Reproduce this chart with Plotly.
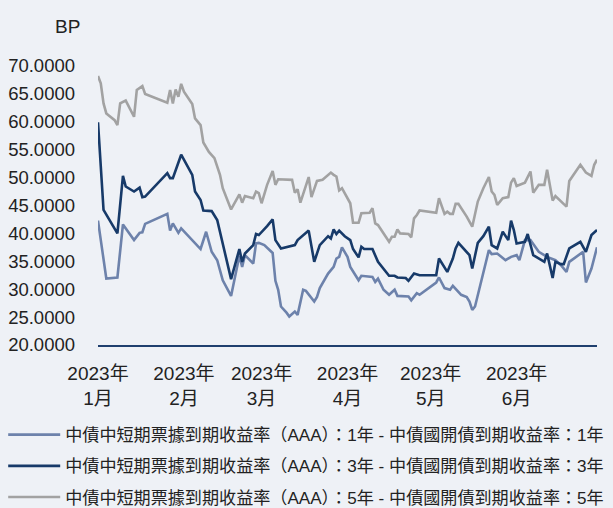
import plotly.graph_objects as go

# ---------------- data ----------------
dates_1y = ["2023-01-01","2023-01-04","2023-01-08","2023-01-10","2023-01-14","2023-01-16","2023-01-17","2023-01-18",
            "2023-01-26","2023-01-27","2023-01-28","2023-01-30","2023-01-31","2023-02-07","2023-02-09","2023-02-11",
            "2023-02-13","2023-02-15","2023-02-18","2023-02-21","2023-02-22","2023-02-23","2023-02-26","2023-02-27",
            "2023-02-28","2023-03-02","2023-03-05","2023-03-06","2023-03-07","2023-03-08","2023-03-10","2023-03-11",
            "2023-03-13","2023-03-14","2023-03-16","2023-03-17","2023-03-20","2023-03-21","2023-03-22","2023-03-25",
            "2023-03-27","2023-03-28","2023-03-29","2023-03-30","2023-04-01","2023-04-02","2023-04-05","2023-04-06",
            "2023-04-10","2023-04-11","2023-04-12","2023-04-14","2023-04-16","2023-04-18","2023-04-19","2023-04-23",
            "2023-04-24","2023-04-26","2023-04-27","2023-05-03","2023-05-04","2023-05-06","2023-05-08","2023-05-09",
            "2023-05-12","2023-05-14","2023-05-15","2023-05-16","2023-05-17","2023-05-20","2023-05-22","2023-05-23",
            "2023-05-25","2023-05-28","2023-05-30","2023-06-01","2023-06-02","2023-06-04","2023-06-06","2023-06-07",
            "2023-06-09","2023-06-12","2023-06-15","2023-06-17","2023-06-19","2023-06-20","2023-06-25","2023-06-26",
            "2023-06-28","2023-06-30"]
spread_1y = [42.3,31.9,32.1,41.6,38.8,40.1,40.2,41.7,
             43.5,40.5,41.8,40.1,40.9,37.2,40.3,36.7,
             35.2,31.6,28.8,36.0,34.0,36.1,34.6,38.2,
             38.3,37.9,36.5,31.5,29.9,26.9,25.8,25.1,
             26.0,25.4,29.9,29.7,27.8,28.6,30.2,32.8,
             34.0,35.5,35.8,37.5,35.8,34.0,31.6,32.4,
             32.2,31.3,31.9,29.9,29.0,29.9,28.8,28.7,
             28.0,29.3,29.0,31.2,32.1,30.2,29.9,30.6,
             29.0,28.6,27.8,26.3,26.9,32.8,37.0,36.3,
             36.4,35.2,35.8,36.1,35.2,38.8,38.8,38.1,
             36.7,35.8,35.2,34.3,33.1,34.9,36.7,31.2,
             33.7,37.5]

dates_3y = ["2023-01-01","2023-01-03","2023-01-08","2023-01-10","2023-01-11","2023-01-14","2023-01-16","2023-01-17",
            "2023-01-18","2023-01-26","2023-01-27","2023-01-28","2023-01-31","2023-02-04","2023-02-05","2023-02-07",
            "2023-02-08","2023-02-11","2023-02-13","2023-02-18","2023-02-21","2023-02-22","2023-02-23","2023-02-26",
            "2023-02-27","2023-02-28","2023-03-03","2023-03-05","2023-03-06","2023-03-08","2023-03-13","2023-03-14",
            "2023-03-18","2023-03-20","2023-03-22","2023-03-25","2023-03-26","2023-03-27","2023-03-28","2023-03-29",
            "2023-03-31","2023-04-02","2023-04-03","2023-04-05","2023-04-06","2023-04-07","2023-04-10","2023-04-12",
            "2023-04-16","2023-04-18","2023-04-19","2023-04-22","2023-04-23","2023-04-25","2023-04-27","2023-05-03",
            "2023-05-04","2023-05-07","2023-05-09","2023-05-10","2023-05-11","2023-05-15","2023-05-16","2023-05-18",
            "2023-05-20","2023-05-22","2023-05-23","2023-05-25","2023-05-26","2023-05-27","2023-05-29","2023-05-30",
            "2023-05-31","2023-06-01","2023-06-04","2023-06-05","2023-06-07","2023-06-11","2023-06-12","2023-06-14",
            "2023-06-15","2023-06-17","2023-06-18","2023-06-20","2023-06-24","2023-06-26","2023-06-28","2023-06-30"]
spread_3y = [59.9,44.2,40.0,50.3,48.4,47.5,48.2,46.5,
             46.6,50.8,49.9,49.9,54.1,50.5,47.5,46.0,
             44.1,44.0,42.4,31.8,37.2,34.9,36.4,37.9,
             39.9,39.7,41.3,42.5,38.8,37.3,37.9,38.8,
             40.5,34.9,37.9,39.5,39.1,40.7,39.9,40.5,
             39.5,38.8,37.2,35.7,37.6,37.2,37.2,34.9,
             32.4,32.4,32.1,32.0,31.5,32.8,32.5,32.5,
             35.5,33.1,35.5,37.3,38.3,36.1,33.7,38.3,
             39.5,41.2,37.9,37.3,38.8,40.3,38.8,42.3,
             40.6,38.2,38.5,39.9,36.1,34.9,36.4,32.0,
             34.9,34.5,34.5,37.3,38.5,36.7,39.7,40.6]

dates_5y = ["2023-01-01","2023-01-02","2023-01-03","2023-01-04","2023-01-07","2023-01-08","2023-01-09","2023-01-11",
            "2023-01-14","2023-01-15","2023-01-17","2023-01-18","2023-01-26","2023-01-27","2023-01-28","2023-01-29",
            "2023-01-30","2023-01-31","2023-02-01","2023-02-04","2023-02-05","2023-02-07","2023-02-08","2023-02-10",
            "2023-02-12","2023-02-14","2023-02-15","2023-02-18","2023-02-21","2023-02-22","2023-02-23","2023-02-26",
            "2023-02-27","2023-02-28","2023-03-01","2023-03-03","2023-03-05","2023-03-06","2023-03-07","2023-03-12",
            "2023-03-13","2023-03-14","2023-03-15","2023-03-18","2023-03-19","2023-03-21","2023-03-23","2023-03-26",
            "2023-03-27","2023-03-28","2023-03-29","2023-03-30","2023-04-02","2023-04-03","2023-04-05","2023-04-06",
            "2023-04-09","2023-04-10","2023-04-11","2023-04-12","2023-04-16","2023-04-17","2023-04-18","2023-04-19",
            "2023-04-20","2023-04-23","2023-04-24","2023-04-25","2023-04-26","2023-04-27","2023-05-03","2023-05-04",
            "2023-05-06","2023-05-07","2023-05-08","2023-05-09","2023-05-10","2023-05-11","2023-05-14","2023-05-16",
            "2023-05-18","2023-05-20","2023-05-22","2023-05-23","2023-05-24","2023-05-25","2023-05-26","2023-05-27",
            "2023-05-29","2023-05-30","2023-05-31","2023-06-01","2023-06-04","2023-06-05","2023-06-06","2023-06-07",
            "2023-06-09","2023-06-11","2023-06-12","2023-06-14","2023-06-15","2023-06-19","2023-06-20","2023-06-24",
            "2023-06-26","2023-06-28","2023-06-29","2023-06-30"]
spread_5y = [68.2,66.9,63.3,61.5,60.3,59.4,63.3,63.8,
             60.9,65.7,66.4,65.0,63.4,65.7,63.3,65.8,
             64.5,66.8,65.4,63.2,60.6,59.4,56.3,54.6,
             53.5,50.5,48.1,44.3,47.0,45.5,46.7,46.3,
             47.5,47.2,45.4,48.7,51.2,48.7,49.7,49.6,
             47.3,47.9,45.5,50.1,46.5,49.4,49.6,50.9,
             50.5,50.2,47.7,48.1,45.4,41.9,41.9,43.6,
             43.7,44.5,41.8,41.5,38.5,39.4,39.4,40.7,
             40.0,39.9,39.3,42.7,43.3,44.1,43.7,46.3,
             43.5,43.9,43.5,43.5,45.3,45.3,43.0,41.2,
             45.7,48.1,50.1,47.5,46.9,45.1,45.7,46.3,
             46.5,49.1,49.9,48.5,49.1,50.2,51.1,47.3,
             48.7,48.7,51.4,45.9,46.7,44.8,49.4,52.3,
             50.9,50.3,52.3,53.2]

series_names = [
    "中債中短期票據到期收益率（AAA）：1年 - 中債國開債到期收益率：1年",
    "中債中短期票據到期收益率（AAA）：3年 - 中債國開債到期收益率：3年",
    "中債中短期票據到期收益率（AAA）：5年 - 中債國開債到期收益率：5年",
]
tick_dates = ["2023-01-01", "2023-02-01", "2023-03-01", "2023-04-01", "2023-05-01", "2023-06-01"]
tick_labels = ["2023年<br>1月", "2023年<br>2月", "2023年<br>3月", "2023年<br>4月", "2023年<br>5月", "2023年<br>6月"]
y_unit = "BP"

# ---------------- style ----------------
BG = "#EEF1F6"
TXT = "#222222"
colors = ["#6D82AB", "#173A69", "#A2A2A2"]
FONT = "Arial, 'Liberation Sans', 'Noto Sans CJK TC', sans-serif"

fig = go.Figure()
for i, (d, v) in enumerate([(dates_1y, spread_1y), (dates_3y, spread_3y), (dates_5y, spread_5y)]):
    fig.add_trace(go.Scatter(
        x=d, y=v, mode="lines", name=series_names[i], legendgroup=str(i),
        line=dict(color=colors[i], width=2.6),
    ))

fig.update_layout(
    width=613, height=508,
    margin=dict(l=98, r=16, t=66, b=163, autoexpand=False),
    paper_bgcolor=BG, plot_bgcolor=BG,
    font=dict(family=FONT, size=19, color=TXT),
    showlegend=True,
    legend=dict(
        xref="paper", yref="paper", x=-0.19, y=-0.258,
        xanchor="left", yanchor="top",
        font=dict(size=17.1, color=TXT, family=FONT),
        bgcolor="rgba(0,0,0,0)", itemwidth=52, tracegroupgap=6,
        orientation="v",
    ),
    annotations=[dict(
        text=y_unit, xref="paper", yref="paper",
        x=-0.032, y=1.14, xanchor="right", yanchor="middle",
        showarrow=False, font=dict(size=19, color=TXT),
    )],
)
fig.update_xaxes(
    type="date", range=["2023-01-01", "2023-06-30"],
    tickmode="array", tickvals=tick_dates, ticktext=tick_labels,
    showgrid=False, zeroline=False, showline=True,
    linecolor="#1F3F6E", linewidth=2, ticks="",
    ticklabelstandoff=10,
    tickfont=dict(size=19, color=TXT),
)
fig.update_yaxes(
    range=[20, 70], dtick=5, tick0=20, tickformat=".4f",
    showgrid=False, zeroline=False, showline=False, ticks="",
    ticklabelstandoff=22,
    tickfont=dict(size=18.5, color=TXT),
)

fig.write_html(
    "out.html",
    config={"displayModeBar": False},
    post_script="document.body.style.margin='0';document.body.style.background='" + BG + "';",
)
